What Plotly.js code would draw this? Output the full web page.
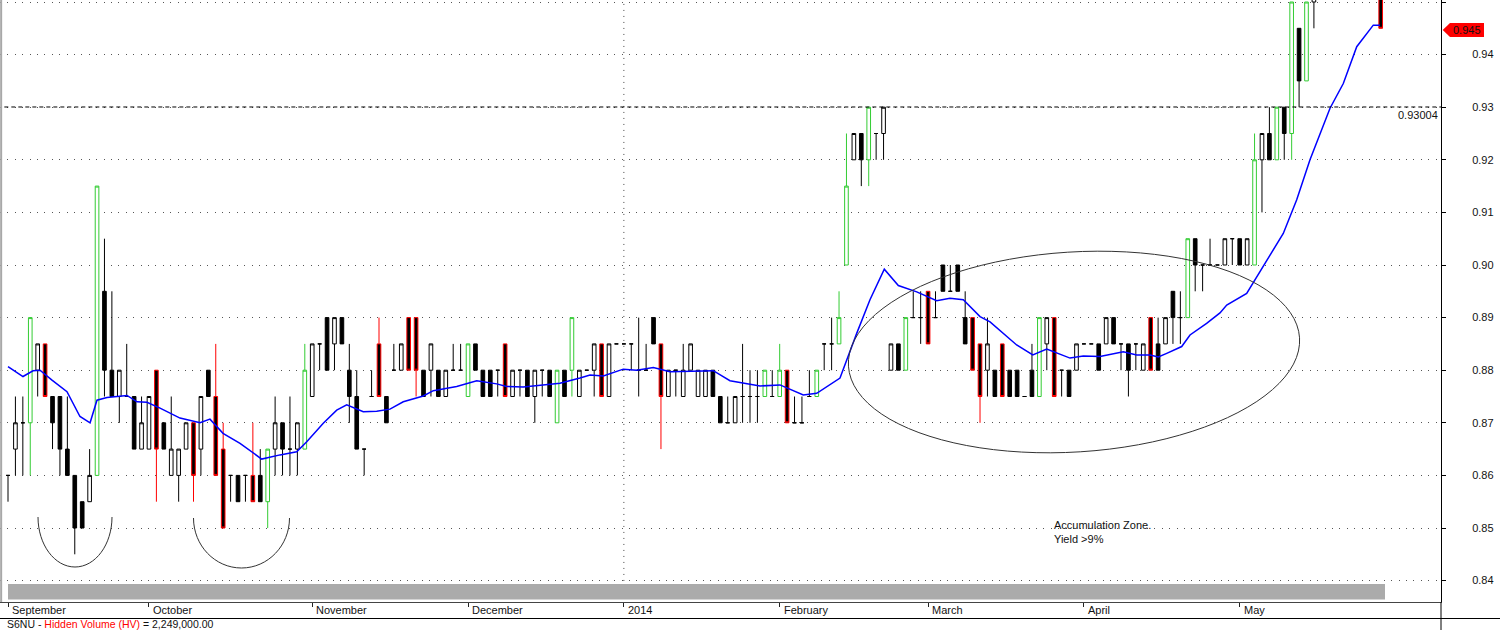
<!DOCTYPE html>
<html>
<head>
<meta charset="utf-8">
<script src="https://cdn.plot.ly/plotly-3.0.1.min.js"></script>
<style>html,body{margin:0;padding:0;background:#fff;}#chart{width:1500px;height:630px;}</style>
</head>
<body>
<div id="chart"></div>
<script>
// ---- DATA (bar index = trading-day position on the chart) ----
const barIndex = [
  0,1,2,3,4,5,6,7,8,9, 10,11,12,13,14,15,16,17,18,19,
  20,21,22,23,24,25,26,27,28,29, 30,31,32,33,34,35,36,37,38,39,
  40,41,42,43,44,45,46,47,48,49, 50,51,52,53,54,55,56,57,58,59,
  60,61,62,63,64,65,66,67,68,69, 70,71,72,73,74,75,76,77,78,79,
  80,81,82,83,84,85,86,87,88,89, 90,91,92,93,94,95,96,97,98,99,
  100,101,102,103,104,105,106,107,108,109, 110,111,112,113,114,115,116,117,118,119,
  120,121,122,123,124,125,126,127,128,129, 130,131,132,133,134,135,136,137,138,139,
  140,141,142,143,144,145,146,147,148,149, 150,151,152,153,154,155,156,157,158,159,
  160,161,162,163,164,165,166,167,168,169, 170,171,172,173,174,175,176,185
];
const openP = [
  .86,.865,.87,.87,.88,.885,.875,.875,.865,.86, .855,.855,.86,.895,.88,.875,.875,.875,.865,.865,
  .88,.87,.86,.86,.865,.87,.865,.88,.875,.865, .86,.86,.86,.86,.86,.855,.865,.87,.865,.865,
  .865,.875,.885,.89,.885,.89,.88,.875,.865,.875, .885,.875,.88,.88,.89,.89,.88,.88,.88,.875,
  .88,.88,.875,.885,.88,.88,.88,.885,.875,.88, .88,.875,.88,.88,.87,.88,.88,.875,.88,.88,
  .885,.875,.885,.885,.885,.88,.88,.89,.885,.875, .88,.875,.88,.875,.875,.88,.875,.87,.87,.875,
  .875,.875,.875,.875,.875,.88,.87,.87,.875,.875, .885,.885,.885,.90,.92,.925,.92,.925,.925,.88,
  .885,.88,.89,.89,.895,.89,.90,.895,.90,.89, .89,.885,.88,.88,.885,.88,.88,.875,.88,.875,
  .885,.89,.88,.88,.88,.885,.885,.885,.885,.89, .885,.885,.885,.88,.89,.885,.885,.895,.89,.89,
  .905,.90,.90,.90,.90,.905,.905,.90,.90,.92, .925,.92,.93,.925,.945,.935,.95,.955
];
const highP = [
  .86,.875,.875,.89,.885,.885,.875,.875,.875,.86, .855,.865,.915,.905,.895,.88,.885,.875,.875,.875,
  .88,.87,.875,.865,.87,.87,.875,.88,.885,.87, .86,.86,.86,.87,.865,.865,.875,.87,.875,.87,
  .885,.885,.885,.89,.89,.89,.885,.88,.865,.88, .89,.875,.885,.885,.89,.89,.88,.885,.88,.88,
  .885,.885,.885,.885,.88,.88,.88,.885,.88,.88, .88,.88,.88,.88,.88,.88,.89,.88,.88,.885,
  .885,.885,.885,.885,.885,.89,.885,.89,.885,.88, .88,.885,.885,.88,.88,.88,.875,.875,.875,.885,
  .88,.88,.88,.88,.885,.88,.875,.875,.88,.88, .885,.89,.895,.925,.925,.925,.93,.925,.93,.885,
  .885,.89,.895,.895,.895,.895,.90,.90,.90,.895, .89,.885,.89,.88,.885,.88,.88,.875,.885,.89,
  .89,.89,.88,.88,.885,.885,.885,.885,.89,.89, .885,.885,.885,.885,.89,.89,.89,.895,.895,.905,
  .905,.90,.905,.90,.905,.905,.905,.905,.925,.925, .93,.93,.93,.95,.945,.95,.955,.96
];
const lowP = [
  .855,.86,.86,.86,.875,.875,.865,.86,.86,.845, .85,.855,.86,.875,.875,.87,.875,.865,.865,.865,
  .855,.865,.86,.855,.865,.855,.86,.875,.86,.85, .855,.855,.855,.855,.855,.85,.86,.86,.86,.86,
  .865,.875,.88,.88,.88,.885,.87,.865,.86,.875, .875,.87,.88,.88,.88,.875,.875,.875,.875,.875,
  .88,.88,.875,.88,.875,.875,.875,.875,.875,.875, .875,.87,.875,.875,.87,.875,.875,.875,.88,.875,
  .875,.875,.885,.885,.88,.875,.88,.885,.865,.875, .875,.875,.88,.875,.875,.875,.87,.87,.87,.87,
  .87,.87,.875,.875,.875,.87,.87,.87,.875,.875, .88,.88,.885,.90,.92,.915,.915,.92,.92,.88,
  .88,.88,.89,.885,.885,.89,.895,.895,.895,.885, .88,.87,.875,.875,.875,.875,.875,.875,.875,.875,
  .88,.875,.875,.875,.88,.885,.885,.88,.885,.885, .88,.875,.88,.88,.88,.88,.885,.885,.885,.89,
  .895,.895,.90,.90,.90,.90,.90,.90,.90,.91, .92,.92,.92,.92,.93,.935,.945,.945
];
const closeP = [
  .86,.87,.87,.89,.885,.875,.87,.865,.86,.85, .85,.86,.915,.88,.875,.88,.875,.865,.87,.875,
  .865,.865,.865,.865,.87,.86,.875,.875,.86,.85, .86,.855,.86,.855,.855,.865,.87,.865,.865,.87,
  .88,.885,.885,.88,.89,.885,.875,.865,.865,.875, .875,.87,.88,.885,.88,.88,.875,.885,.875,.88,
  .88,.88,.885,.88,.875,.875,.88,.875,.88,.88, .875,.88,.88,.875,.88,.875,.89,.88,.88,.885,
  .875,.885,.885,.885,.885,.88,.88,.885,.875,.88, .88,.88,.885,.88,.88,.875,.87,.87,.875,.875,
  .875,.875,.88,.875,.88,.87,.87,.87,.875,.88, .885,.885,.89,.915,.925,.92,.93,.925,.93,.885,
  .88,.89,.89,.89,.885,.89,.895,.895,.895,.885, .88,.875,.885,.875,.875,.875,.875,.875,.875,.89,
  .89,.875,.88,.875,.885,.885,.885,.88,.89,.885, .885,.88,.885,.885,.88,.88,.89,.89,.89,.905,
  .90,.90,.90,.90,.905,.905,.90,.905,.92,.925, .92,.93,.925,.95,.935,.95,.955,.945
];
// candle colour class: g = green, r = red, k = black
const signal = [
  'k','k','k','g','k','r','k','k','k','k', 'k','k','g','k','k','k','k','k','k','k',
  'r','k','k','k','k','r','k','k','r','r', 'k','k','k','r','k','g','k','k','k','k',
  'g','k','k','k','k','k','k','k','k','k', 'r','k','k','k','r','r','k','k','k','k',
  'k','k','g','k','k','k','k','r','k','k', 'k','k','k','k','g','k','g','k','k','k',
  'r','k','k','k','k','k','k','k','r','k', 'k','k','k','k','k','k','k','k','k','k',
  'k','k','g','k','g','r','k','k','k','g', 'k','k','g','g','k','k','g','k','k','k',
  'k','g','k','k','r','k','k','k','k','k', 'r','r','k','k','r','k','k','k','k','g',
  'k','r','k','k','k','k','k','k','k','k', 'k','k','k','k','r','k','k','k','k','g',
  'k','k','k','k','k','k','k','k','g','k', 'k','g','k','g','k','g','k','r'
];
// moving average line
const maIndex = [0,2.02,3.37,4.31,5.93,7.95,9.7,11.06,11.99,13.34,16.04,17.39,18.73,20.49,23.18,25.88,27.22,28.98,31.27,34.19,
  36.66,38.91,40.26,42.49,44.3,45.65,47.88,49.69,51.48,53.27,55.97,57.32,60.47,63.17,65.86,67.21,69.45,72.14,74.39,77.09,
  78.44,80.23,82.92,84.73,86.97,89.22,92.82,95.05,97.3,99.1,101.35,104.04,107.18,108.99,112.13,114.38,116.17,118.1,119.99,122.47,
  125.16,126.95,128.75,131,132.35,135.94,138.11,139.99,143.13,144.92,147.17,150.31,152.11,153.91,155.03,156.16,158.18,159.3,161.54,163.34,
  164.25,166.94,169.18,171.87,173.68,175.47,178.17,179.96,181.77,184,184.91];
const maValue = [0.8807,0.8788,0.8799,0.8800,0.8781,0.8759,0.8712,0.8700,0.8743,0.8748,0.8752,0.8740,0.8739,0.8728,0.8709,0.8700,0.8707,0.8680,0.8661,0.8631,
  0.8639,0.8645,0.8664,0.8699,0.8724,0.8734,0.8721,0.8722,0.8726,0.8740,0.8751,0.8761,0.8769,0.8780,0.8774,0.8769,0.8768,0.8772,0.8775,0.8785,
  0.8791,0.8789,0.8802,0.8800,0.8805,0.8797,0.8799,0.8799,0.8780,0.8775,0.8770,0.8772,0.8753,0.8756,0.8785,0.8870,0.8934,0.8992,0.8961,0.8949,
  0.8932,0.8937,0.8934,0.8902,0.8892,0.8848,0.8829,0.8840,0.8823,0.8827,0.8826,0.8835,0.8829,0.8829,0.8825,0.8832,0.8845,0.8867,0.8889,0.8909,
  0.8924,0.8946,0.8997,0.9060,0.9124,0.9200,0.9298,0.9345,0.9415,0.9456,0.9456];
const monthTickIndex = [0,19,41,62,83,104,124,145,166];
const monthLabels = ['September','October','November','December','2014','February','March','April','May'];
const lastPrice = 0.945;
const refLevel = 0.93004;

// ---- BUILD ----
function pick(code){ const ix=[]; signal.forEach((s,i)=>{ if(s===code) ix.push(i); }); return ix; }
function candles(code, upLine, upFill, dnLine, dnFill){
  const ix = pick(code);
  return {
    type:'candlestick',
    x: ix.map(i=>barIndex[i]), open: ix.map(i=>openP[i]), high: ix.map(i=>highP[i]),
    low: ix.map(i=>lowP[i]), close: ix.map(i=>closeP[i]),
    increasing:{line:{color:upLine,width:1}, fillcolor:upFill},
    decreasing:{line:{color:dnLine,width:1}, fillcolor:dnFill},
    whiskerwidth:0, hoverinfo:'skip', showlegend:false
  };
}
const traces = [
  candles('k','#000000','#ffffff','#000000','#000000'),
  candles('g','#33cc33','#ffffff','#33cc33','#ffffff'),
  candles('r','#ff0000','#ffffff','#ff0000','#000000'),
  {type:'scatter', mode:'lines', x:maIndex, y:maValue, line:{color:'#0000ff', width:1.5}, hoverinfo:'skip', showlegend:false}
];

const PW = 1441, PH = 602, SP = 7.42, X0 = 8;   // plot geometry helpers
const px2i = p => (p - X0)/SP;
const py2v = p => 0.95 - (p - 2)/5260;

function halfEllipse(cxp, cyp, rxp, ryp){
  const k = 0.5523;
  const X = v=>px2i(v), Y = v=>py2v(v);
  return 'M '+X(cxp-rxp)+','+Y(cyp)+
    ' C '+X(cxp-rxp)+','+Y(cyp+k*ryp)+' '+X(cxp-k*rxp)+','+Y(cyp+ryp)+' '+X(cxp)+','+Y(cyp+ryp)+
    ' C '+X(cxp+k*rxp)+','+Y(cyp+ryp)+' '+X(cxp+rxp)+','+Y(cyp+k*ryp)+' '+X(cxp+rxp)+','+Y(cyp);
}
// slightly tilted ellipse outline (pixel geometry -> data coords)
function tiltedEllipse(cxp, cyp, a, b, deg){
  const th = deg*Math.PI/180, n = 96; let d = '';
  for(let j=0;j<=n;j++){
    const t = 2*Math.PI*j/n;
    const ex = a*Math.cos(t), ey = b*Math.sin(t);
    const X = cxp + ex*Math.cos(th) + ey*Math.sin(th);
    const Y = cyp - ex*Math.sin(th) + ey*Math.cos(th);
    d += (j===0?'M ':' L ') + px2i(X) + ',' + py2v(Y);
  }
  return d + ' Z';
}
const pyP = p => (PH - p)/PH;
const pxP = p => p/PW;

const shapes = [
  {type:'line', xref:'paper', yref:'paper', x0:0.0008, x1:0.0008, y0:0, y1:1, line:{color:'#a8a8a8', width:2}},
  {type:'line', xref:'x', yref:'paper', x0:monthTickIndex[4], x1:monthTickIndex[4], y0:0.035, y1:1, line:{color:'#444', width:1, dash:'1px,5px'}},
  {type:'line', xref:'paper', yref:'y', x0:0.003, x1:1, y0:refLevel, y1:refLevel, line:{color:'#000', width:1, dash:'4px,3px'}},
  {type:'path', xref:'x', yref:'y', path:tiltedEllipse(1074,352,226,100,3.6), line:{color:'#333', width:1}},
  {type:'path', xref:'x', yref:'y', path:halfEllipse(75,517,37,50), line:{color:'#333', width:1}},
  {type:'path', xref:'x', yref:'y', path:halfEllipse(241.5,518,48,50), line:{color:'#333', width:1}},
  {type:'rect', xref:'paper', yref:'paper', x0:pxP(8), x1:pxP(1385), y0:pyP(599.5), y1:pyP(584), fillcolor:'#ababab', line:{width:0}},
  {type:'line', xref:'paper', yref:'paper', x0:0, x1:pxP(1500), y0:pyP(618.5), y1:pyP(618.5), line:{color:'#000', width:1}},
  {type:'line', xref:'paper', yref:'paper', x0:1, x1:1, y0:pyP(630), y1:0, line:{color:'#000', width:1}},
  {type:'path', xref:'paper', yref:'paper',
   path:'M '+pxP(1442.7)+','+pyP(30)+' L '+pxP(1450)+','+pyP(23)+' L '+pxP(1484)+','+pyP(23)+' L '+pxP(1484)+','+pyP(37)+' L '+pxP(1450)+','+pyP(37)+' Z',
   fillcolor:'#ff0000', line:{width:0}}
];

const font = {family:'"Liberation Sans", Arial, sans-serif', size:11, color:'#111'};
const annotations = monthLabels.map((t,i)=>({
  text:t, xref:'x', x:monthTickIndex[i], yref:'paper', y:pyP(610), xanchor:'left', yanchor:'middle',
  xshift:2, showarrow:false, font:font
}));
annotations.push(
  {text:String(refLevel), xref:'paper', x:1, yref:'y', y:refLevel, xanchor:'right', yanchor:'top', xshift:-1, yshift:0, showarrow:false, font:font},
  {text:lastPrice.toFixed(3), xref:'paper', x:pxP(1467), yref:'paper', y:pyP(30), xanchor:'center', yanchor:'middle', showarrow:false, font:font},
  {text:'Accumulation Zone.<br>Yield >9%', xref:'x', x:px2i(1052), yref:'y', y:py2v(532), xanchor:'left', yanchor:'middle', align:'left', showarrow:false, font:font},
  {text:'S6NU - <span style="color:#ff0000">Hidden Volume (HV)</span> = 2,249,000.00', xref:'paper', x:pxP(5), yref:'paper', y:pyP(624), xanchor:'left', yanchor:'middle', showarrow:false,
   font:{family:font.family, size:10.5, color:'#111'}}
);

const layout = {
  width:1500, height:630,
  margin:{l:0, r:1500-PW, t:0, b:630-PH, pad:0},
  paper_bgcolor:'#ffffff', plot_bgcolor:'#ffffff',
  showlegend:false, hovermode:false, dragmode:false,
  font:font,
  xaxis:{type:'linear', range:[px2i(0), px2i(PW)], showgrid:false, zeroline:false,
    showticklabels:false, tickmode:'array', tickvals:monthTickIndex, ticks:'outside', ticklen:4, tickcolor:'#222',
    showline:true, linecolor:'#444', linewidth:1, rangeslider:{visible:false}, fixedrange:true},
  yaxis:{side:'right', range:[py2v(PH), py2v(0)], tick0:0.84, dtick:0.01, tickformat:'.2f',
    showgrid:true, gridcolor:'#555', griddash:'1px,6.4px', gridwidth:1, zeroline:false,
    ticks:'outside', ticklen:4, tickcolor:'#000', showline:true, linecolor:'#000', linewidth:1,
    ticklabelstandoff:24, tickfont:font, fixedrange:true},
  shapes:shapes, annotations:annotations
};

Plotly.newPlot('chart', traces, layout, {displayModeBar:false, staticPlot:true});
</script>
</body>
</html>
